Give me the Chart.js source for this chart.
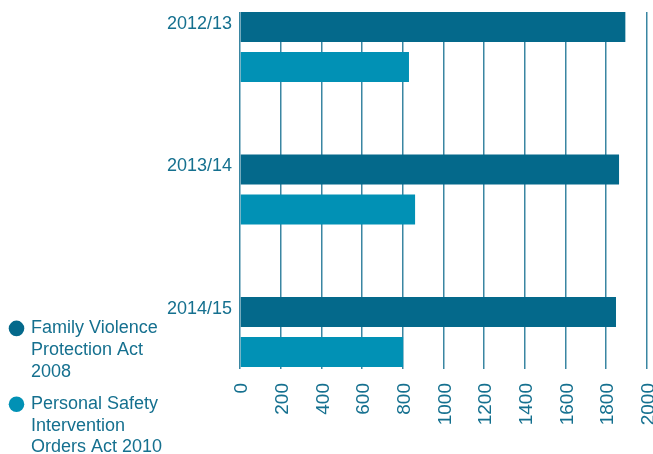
<!DOCTYPE html>
<html>
<head>
<meta charset="utf-8">
<script src="https://cdn.jsdelivr.net/npm/chart.js@4"></script>
<style>
  html, body { margin: 0; padding: 0; background: #fff; }
  #wrap { width: 653px; height: 454px; position: relative; }
</style>
</head>
<body>
<div id="wrap"><canvas id="mycanvas"></canvas></div>
<script>
// values
var years = ["2012/13", "2013/14", "2014/15"];
var familyViolence = [1895, 1864, 1849];
var personalSafety = [831, 861, 802];
var seriesNames = ["Family Violence Protection Act 2008", "Personal Safety Intervention Orders Act 2010"];
var legendLines = [
	["Family Violence", "Protection Act", "2008"],
	["Personal Safety", "Intervention", "Orders Act 2010"]
];
var xTicks = [0, 200, 400, 600, 800, 1000, 1200, 1400, 1600, 1800, 2000];

var darkTeal = "#04698b";
var lightTeal = "#0191b5";
var textColor = "#15708f";
var gridColor = "#3a86a2";
var fontFamily = "'Liberation Sans', Arial, sans-serif";

function toPoints(values) {
	var pts = [];
	for (var i in values) {
		pts.push({ x: values[i], y: Number(i) });
	}
	return pts;
}

// push the legend down to the bottom edge like the original
var legendShift = {
	id: "legendShift",
	afterLayout: function(chart) {
		if (chart.legend) {
			chart.legend.top += 17;
			chart.legend.bottom += 17;
		}
	}
};

var chartdata = {
	datasets: [
		{
			label: seriesNames[0],
			backgroundColor: darkTeal,
			borderWidth: 0,
			data: toPoints(familyViolence)
		},
		{
			label: seriesNames[1],
			backgroundColor: lightTeal,
			borderWidth: 0,
			data: toPoints(personalSafety)
		}
	]
};

var ctx = document.getElementById("mycanvas");

var barGraph = new Chart(ctx, {
	type: "bar",
	data: chartdata,
	plugins: [legendShift],
	options: {
		indexAxis: "y",
		responsive: true,
		maintainAspectRatio: false,
		animation: false,
		categoryPercentage: 0.5614,
		barPercentage: 0.75,
		layout: { padding: { top: 12, left: 0, right: 0, bottom: 0 } },
		plugins: {
			tooltip: { enabled: false },
			legend: {
				position: "left",
				align: "end",
				labels: {
					usePointStyle: true,
					boxWidth: 11,
					boxHeight: 11,
					padding: 11,
					color: textColor,
					font: { family: fontFamily, size: 18, lineHeight: 1.2 },
					generateLabels: function(chart) {
						return chart.data.datasets.map(function(ds, i) {
							return {
								text: legendLines[i],
								fillStyle: ds.backgroundColor,
								strokeStyle: ds.backgroundColor,
								lineWidth: 0,
								pointStyle: "circle",
								fontColor: textColor,
								hidden: false,
								datasetIndex: i
							};
						});
					}
				}
			}
		},
		scales: {
			x: {
				type: "linear",
				position: "bottom",
				min: 0,
				max: 2000,
				afterBuildTicks: function(scale) {
					scale.ticks = xTicks.map(function(v) { return { value: v }; });
				},
				afterFit: function(scale) {
					scale.height = 85;
					scale.paddingRight = 6.3;
					scale.paddingLeft = 0;
				},
				grid: {
					color: gridColor,
					lineWidth: 1.5,
					drawTicks: false
				},
				border: { display: false },
				ticks: {
					minRotation: 90,
					maxRotation: 90,
					padding: 14,
					labelOffset: 2,
					color: textColor,
					font: { family: fontFamily, size: 19, lineHeight: 1 },
					callback: function(value) {
						return String(value);
					}
				}
			},
			y: {
				type: "linear",
				reverse: true,
				offset: false,
				min: -0.245,
				max: 2.26,
				afterBuildTicks: function(scale) {
					scale.ticks = years.map(function(l, i) { return { value: i }; });
				},
				afterFit: function(scale) {
					scale.width = 240 - scale.chart.legend.width;
					scale.paddingTop = 0;
					scale.paddingBottom = 0;
				},
				grid: { display: false, drawTicks: false, offset: false },
				border: { display: false },
				ticks: {
					padding: 8,
					labelOffset: -23,
					color: textColor,
					font: { family: fontFamily, size: 18 },
					callback: function(value) {
						return years[value];
					}
				}
			}
		}
	}
});
</script>
</body>
</html>
